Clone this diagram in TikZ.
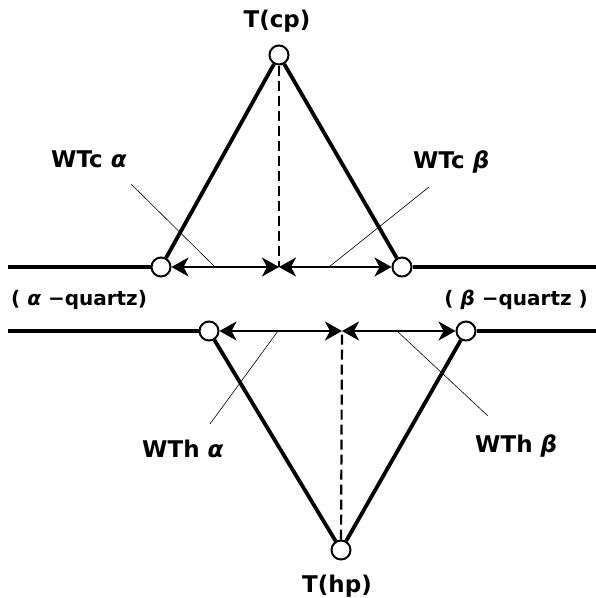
\documentclass[tikz,border=0pt]{standalone}
\usepackage{fontspec}
\setmainfont{DejaVu Sans}
\usetikzlibrary{arrows.meta}
\begin{document}
\begin{tikzpicture}[x=1pt,y=-1pt,
  pt/.style={circle,draw,fill=white,line width=2pt,minimum size=19pt,inner sep=0pt},
  heavy/.style={line width=3.8pt},
  dim/.style={line width=2.6pt,{Stealth[length=17pt,width=19pt,inset=5pt]}-{Stealth[length=17pt,width=19pt,inset=5pt]}},
  lead/.style={line width=0.6pt},
  dashline/.style={line width=2.2pt,dash pattern=on 10pt off 5pt},
  lbl/.style={font=\bfseries\fontsize{23}{26}\selectfont,inner sep=0pt},
  qlbl/.style={font=\bfseries\fontsize{20}{23}\selectfont,inner sep=0pt}]
\useasboundingbox (0,0) rectangle (596,598);
% --- points
\node[pt] (cp) at (279,55) {};
\node[pt] (cl) at (161,267) {};
\node[pt] (cr) at (402,267) {};
\coordinate (cm) at (279,267);
\coordinate (tl0) at (8,267);
\coordinate (tr0) at (596,267);
\node[pt] (hl) at (209,331) {};
\node[pt] (hr) at (466,331) {};
\node[pt] (hp) at (341,550) {};
\coordinate (hm) at (342,331);
\coordinate (bl0) at (8,331);
\coordinate (br0) at (596,331);
% --- top structure
\draw[heavy] (tl0) -- (cl);
\draw[heavy] (cr) -- (tr0);
\draw[heavy] (cp) -- (cl);
\draw[heavy] (cp) -- (cr);
\draw[dashline] (cp) -- (cm);
\draw[dim] (cl) -- (cm);
\draw[dim] (cm) -- (cr);
% --- bottom structure
\draw[heavy] (bl0) -- (hl);
\draw[heavy] (hr) -- (br0);
\draw[heavy] (hp) -- (hl);
\draw[heavy] (hp) -- (hr);
\draw[dashline] (hp) -- (hm);
\draw[dim] (hl) -- (hm);
\draw[dim] (hm) -- (hr);
% --- labels
\node[lbl,anchor=base] (tcp) at (277,27) {T(cp)};
\node[lbl,anchor=base] (thp) at (337,592) {T(hp)};
\node[lbl,anchor=base west] (wtca) at (51,167) {WTc {\itshape α}};
\node[lbl,anchor=base west] (wtcb) at (413,168) {WTc {\itshape β}};
\node[lbl,anchor=base west] (wtha) at (142,457) {WTh {\itshape α}};
\node[lbl,anchor=base west] (wthb) at (475,452) {WTh {\itshape β}};
\node[qlbl,anchor=base west] (qa) at (11,305) {( {\itshape α} −quartz)};
\node[qlbl,anchor=base east] (qb) at (588,305) {( {\itshape β} −quartz )};
% --- leader lines
\coordinate (la1) at (131,184); \coordinate (la2) at (215,267);
\coordinate (lb1) at (429,187); \coordinate (lb2) at (329,267);
\coordinate (lc1) at (210,424); \coordinate (lc2) at (278,331);
\coordinate (ld1) at (488,416); \coordinate (ld2) at (397,331);
\draw[lead] (la1) -- (la2);
\draw[lead] (lb1) -- (lb2);
\draw[lead] (lc1) -- (lc2);
\draw[lead] (ld1) -- (ld2);
\end{tikzpicture}
\end{document}
